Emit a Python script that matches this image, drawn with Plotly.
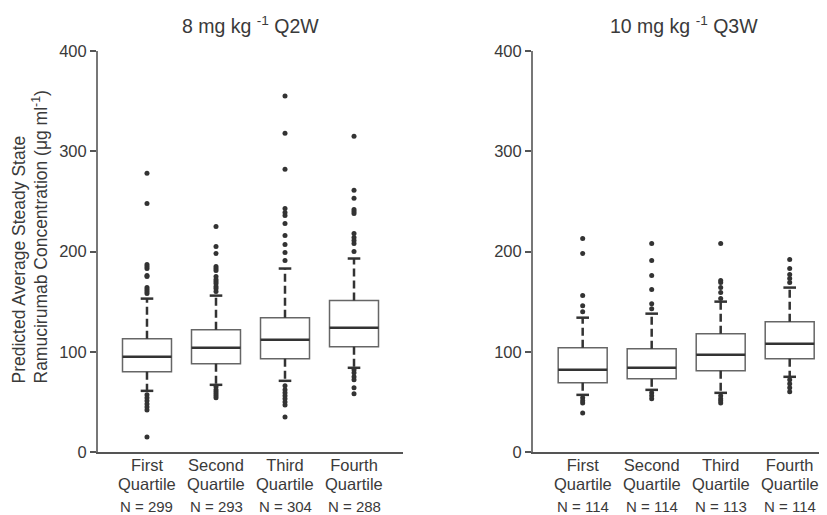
import plotly.graph_objects as go

# ---------------- data ----------------
cat_line1 = ["First", "Second", "Third", "Fourth"]
cat_line2 = ["Quartile", "Quartile", "Quartile", "Quartile"]
titles = ["8 mg kg <sup>-1</sup> Q2W", "10 mg kg <sup>-1</sup> Q3W"]
y_title = "Predicted Average Steady State<br>Ramucirumab Concentration (μg ml<sup>-1</sup>)"

n_q2w = [299, 293, 304, 288]
n_q3w = [114, 114, 113, 114]

# 8 mg/kg Q2W
q1_q2w = [80, 88, 93, 105]
med_q2w = [95, 104, 112, 124]
q3_q2w = [113, 122, 134, 151]
lo_q2w = [61, 67, 71, 84]
hi_q2w = [153, 156, 183, 193]
out_q2w = [
    [278, 248, 187, 185, 183, 176, 175, 164, 162, 160, 158, 57, 54, 51, 48, 45, 42, 15],
    [225, 205, 198, 185, 183, 181, 175, 172, 170, 168, 165, 163, 160, 65, 62, 60, 58, 56, 54],
    [355, 318, 282, 243, 239, 236, 228, 216, 207, 199, 191, 66, 62, 59, 56, 53, 50, 47, 35],
    [315, 261, 253, 242, 240, 238, 218, 214, 211, 208, 200, 82, 79, 75, 72, 64, 58],
]

# 10 mg/kg Q3W
q1_q3w = [69, 73, 81, 93]
med_q3w = [82, 84, 97, 108]
q3_q3w = [104, 103, 118, 130]
lo_q3w = [57, 62, 59, 75]
hi_q3w = [134, 138, 150, 164]
out_q3w = [
    [213, 198, 156, 146, 140, 54, 51, 49, 39],
    [208, 191, 176, 162, 148, 143, 59, 56, 53],
    [208, 171, 169, 164, 159, 153, 56, 53, 51, 49],
    [192, 183, 177, 173, 169, 72, 68, 64, 60],
]

yticks = [0, 100, 200, 300, 400]

# ---------------- style ----------------
BOX_W = 0.71
box_line = "#666666"
dark = "#333333"
txt = "#3a3a3a"
FONT = "Liberation Sans, Arial, sans-serif"

fig = go.Figure()

def add_panel(xa, ya, q1, med, q3, lo, hi, outs):
    xs = list(range(len(q1)))
    for i in xs:
        fig.add_trace(go.Box(
            x=[i], q1=[q1[i]], median=[med[i]], q3=[q3[i]],
            lowerfence=[q1[i]], upperfence=[q3[i]],
            width=BOX_W, fillcolor="white",
            line=dict(color=box_line, width=1.5),
            whiskerwidth=0, boxpoints=False,
            xaxis=xa, yaxis=ya, showlegend=False, hoverinfo="skip",
        ))
        fig.add_trace(go.Scatter(
            x=[i - BOX_W / 2, i + BOX_W / 2], y=[med[i], med[i]],
            mode="lines", line=dict(color=dark, width=2.5),
            xaxis=xa, yaxis=ya, showlegend=False, hoverinfo="skip",
        ))
        fig.add_trace(go.Scatter(
            x=[i, i, None, i, i], y=[q3[i], hi[i], None, q1[i], lo[i]],
            mode="lines", line=dict(color=dark, width=2.5, dash="8px,4px"),
            xaxis=xa, yaxis=ya, showlegend=False, hoverinfo="skip",
        ))
        fig.add_trace(go.Scatter(
            x=[i, i], y=[hi[i], lo[i]], mode="markers",
            marker=dict(symbol="line-ew", size=9, line=dict(color=dark, width=2.5)),
            xaxis=xa, yaxis=ya, showlegend=False, hoverinfo="skip",
        ))
        fig.add_trace(go.Scatter(
            x=[i] * len(outs[i]), y=outs[i], mode="markers",
            marker=dict(color=dark, size=5),
            xaxis=xa, yaxis=ya, showlegend=False, hoverinfo="skip",
        ))

add_panel("x", "y", q1_q2w, med_q2w, q3_q2w, lo_q2w, hi_q2w, out_q2w)
add_panel("x2", "y2", q1_q3w, med_q3w, q3_q3w, lo_q3w, hi_q3w, out_q3w)

# the page body has an 8px default margin: lay out in screen pixels minus that
OFF = 8
W, H = 827 - OFF, 515 - OFF
left1, right1 = 98 - OFF, 403 - OFF
left2, right2 = 533 - OFF, 827 - OFF
top, bottom = 51 - OFF, 452 - OFF
px_per_cat = (right1 - left1) / 4.42

xcommon = dict(
    tickmode="array", tickvals=[0, 1, 2, 3], ticktext=cat_line1,
    showline=True, linecolor="#555555", linewidth=2, ticks="",
    showgrid=False, zeroline=False, automargin=False, ticklabelstandoff=-3,
    tickfont=dict(size=16.5, color=txt, family=FONT),
)
ycommon = dict(
    range=[0, 400], tickvals=yticks, showline=True, linecolor="#777777", linewidth=2,
    ticks="outside", ticklen=6, tickwidth=2, tickcolor="#555555",
    showgrid=False, zeroline=False, automargin=False,
    tickfont=dict(size=16.5, color=txt, family=FONT),
)

fig.update_layout(
    width=W, height=H,
    margin=dict(l=0, r=0, t=top, b=H - bottom, autoexpand=False),
    plot_bgcolor="white", paper_bgcolor="white",
    font=dict(family=FONT, color=txt, size=16),
    xaxis=dict(domain=[left1 / W, right1 / W], range=[-0.71, 3.71], anchor="y", **xcommon),
    xaxis2=dict(domain=[left2 / W, right2 / W],
                range=[-0.72, -0.72 + (right2 - left2) / px_per_cat], anchor="y2", **xcommon),
    yaxis=dict(domain=[0, 1], anchor="x", **ycommon),
    yaxis2=dict(domain=[0, 1], anchor="x2", **ycommon),
)

ph = bottom - top

def py(p):  # screen pixel row -> paper y
    return (bottom - (p - OFF)) / ph

def px(p):  # screen pixel column -> paper x
    return (p - OFF) / W

# y-axis title (two left-aligned lines)
fig.add_annotation(text=y_title, x=px(30), y=py(386), xref="paper", yref="paper",
                   textangle=-90, showarrow=False, xanchor="center", yanchor="bottom",
                   align="left", font=dict(size=17.5, color=txt, family=FONT))

# panel titles
for t, cx in zip(titles, [250, 684]):
    fig.add_annotation(text=t, x=px(cx), y=py(25), xref="paper", yref="paper",
                       showarrow=False, xanchor="center", yanchor="middle",
                       font=dict(size=19.5, color=txt, family=FONT))

# second line of category labels and N labels
for xa, ns in (("x", n_q2w), ("x2", n_q3w)):
    for i, n in enumerate(ns):
        fig.add_annotation(text=cat_line2[i], x=i, y=py(484), xref=xa, yref="paper",
                           showarrow=False, xanchor="center", yanchor="middle",
                           font=dict(size=16.5, color=txt, family=FONT))
        fig.add_annotation(text=f"N = {n}", x=i, y=py(506), xref=xa, yref="paper",
                           showarrow=False, xanchor="center", yanchor="middle",
                           font=dict(size=15, color=txt, family=FONT))

fig.write_html("out.html")
